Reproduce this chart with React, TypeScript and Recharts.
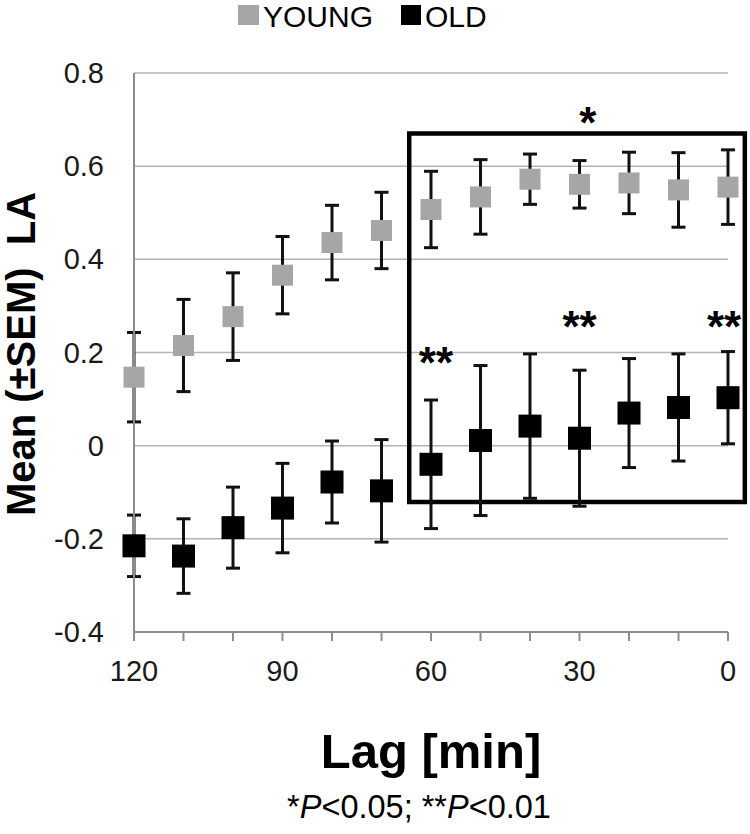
import React from "react";
import {
  ScatterChart,
  Scatter,
  XAxis,
  YAxis,
  CartesianGrid,
  ErrorBar,
  ReferenceArea,
  ReferenceDot,
} from "recharts";

// lag in minutes (x), every 10 min
const lags = [120, 110, 100, 90, 80, 70, 60, 50, 40, 30, 20, 10, 0];

// YOUNG group: mean and SEM
const youngMean = [0.147, 0.215, 0.277, 0.366, 0.436, 0.462, 0.507, 0.534, 0.572, 0.561, 0.564, 0.549, 0.555];
const youngSem = [0.096, 0.099, 0.094, 0.083, 0.08, 0.082, 0.082, 0.08, 0.054, 0.051, 0.066, 0.08, 0.08];

// OLD group: mean and SEM
const oldMean = [-0.215, -0.237, -0.176, -0.134, -0.078, -0.097, -0.04, 0.011, 0.042, 0.016, 0.07, 0.082, 0.103];
const oldSem = [0.066, 0.08, 0.087, 0.096, 0.088, 0.11, 0.138, 0.161, 0.155, 0.146, 0.117, 0.115, 0.099];

const xTicks = [120, 110, 100, 90, 80, 70, 60, 50, 40, 30, 20, 10, 0];
const xLabelTicks = [120, 90, 60, 30, 0];
const yTicks = [-0.4, -0.2, 0, 0.2, 0.4, 0.6, 0.8];

// significance marks (lag, value, text) and the framed window
const sigMarks = [
  { lag: 28.3, value: 0.714, text: "*" },
  { lag: 59, value: 0.2, text: "**" },
  { lag: 30, value: 0.277, text: "**" },
  { lag: 0.8, value: 0.277, text: "**" },
];
const windowBox = { lagFrom: 64.4, lagTo: -3.4, low: -0.121, high: 0.67 };

const FONT = "'Liberation Sans', Arial, sans-serif";
const YOUNG_COLOR = "#a6a6a6";
const OLD_COLOR = "#000000";
const GRID_COLOR = "#b3b3b3";
const AXIS_COLOR = "#8c8c8c";

const youngData = lags.map((lag, i) => ({ lag, mean: youngMean[i], sem: youngSem[i] }));
const oldData = lags.map((lag, i) => ({ lag, mean: oldMean[i], sem: oldSem[i] }));

const square = (size: number, color: string) => (props: any) => {
  const { cx, cy } = props;
  return <rect x={cx - size / 2} y={cy - size / 2} width={size} height={size} fill={color} />;
};

const XTick = ({ x, y, payload }: any) => {
  if (!xLabelTicks.includes(payload.value)) return null;
  return (
    <text x={x} y={y + 30} textAnchor="middle" dominantBaseline="central" fontSize={29} fontFamily={FONT} fill="#1a1a1a">
      {payload.value}
    </text>
  );
};

const YTick = ({ x, y, payload }: any) => {
  const v = payload.value;
  const label = v === 0 ? "0" : String(v);
  return (
    <text x={x} y={y} textAnchor="end" dominantBaseline="central" fontSize={29} fontFamily={FONT} fill="#1a1a1a">
      {label}
    </text>
  );
};

const XTitle = (props: any) => {
  const { viewBox } = props;
  const cx = viewBox.x + viewBox.width / 2;
  return (
    <g>
      <text x={cx} y={viewBox.y + 136} textAnchor="middle" fontSize={49} fontWeight="bold" fontFamily={FONT} fill="#000">
        Lag [min]
      </text>
      <text x={419} y={818} textAnchor="middle" fontSize={32.5} fontFamily={FONT} fill="#000">
        <tspan>*</tspan>
        <tspan fontStyle="italic">P</tspan>
        <tspan>{"<0.05; **"}</tspan>
        <tspan fontStyle="italic">P</tspan>
        <tspan>{"<0.01"}</tspan>
      </text>
    </g>
  );
};

const YTitle = (props: any) => {
  const { viewBox } = props;
  const cy = viewBox.y + viewBox.height / 2 + 1.5;
  return (
    <text
      x={21}
      y={cy}
      transform={`rotate(-90, 21, ${cy})`}
      textAnchor="middle"
      dominantBaseline="central"
      fontSize={40}
      fontWeight="bold"
      fontFamily={FONT}
      fill="#000"
      style={{ whiteSpace: "pre" }}
    >
      {"Mean (\u00b1SEM)  LA"}
    </text>
  );
};

const starShape = (text: string) => (props: any) => (
  <text x={props.cx} y={props.cy + 25} textAnchor="middle" fontSize={44} fontWeight="bold" fontFamily={FONT} fill="#000">
    {text}
  </text>
);

const Legend = () => (
  <div
    style={{
      position: "absolute",
      left: 238,
      top: 0,
      display: "flex",
      alignItems: "flex-start",
      fontFamily: FONT,
      fontSize: 30,
      lineHeight: "normal",
      color: "#000",
      whiteSpace: "nowrap",
    }}
  >
    <span style={{ width: 21, height: 20, marginTop: 5, background: YOUNG_COLOR, display: "inline-block", marginRight: 4 }} />
    <span>YOUNG</span>
    <span style={{ width: 20, height: 20, marginTop: 5, background: OLD_COLOR, display: "inline-block", marginLeft: 28, marginRight: 4 }} />
    <span>OLD</span>
  </div>
);

export default function App() {
  return (
    <div style={{ position: "absolute", left: 0, top: 0, width: 750, height: 834, background: "#fff" }}>
      <Legend />
      <ScatterChart width={750} height={834} margin={{ top: 73, right: 22, left: 0, bottom: 0 }}>
        <CartesianGrid horizontal vertical={false} stroke={GRID_COLOR} strokeWidth={1.5} />
        <XAxis
          type="number"
          dataKey="lag"
          domain={[0, 120]}
          reversed
          ticks={xTicks}
          interval={0}
          height={202}
          tickSize={9}
          tickMargin={0}
          tick={<XTick />}
          stroke={AXIS_COLOR}
          strokeWidth={2}
          label={<XTitle />}
        />
        <YAxis
          type="number"
          dataKey="mean"
          domain={[-0.4, 0.8]}
          ticks={yTicks}
          interval={0}
          width={134}
          tickLine={false}
          tickSize={0}
          tickMargin={30}
          tick={<YTick />}
          stroke={AXIS_COLOR}
          strokeWidth={2}
          label={<YTitle />}
        />
        <Scatter name="YOUNG" data={youngData} shape={square(21, YOUNG_COLOR)} isAnimationActive={false}>
          <ErrorBar dataKey="sem" direction="y" width={7} stroke="#111" strokeWidth={3} />
        </Scatter>
        <Scatter name="OLD" data={oldData} shape={square(23, OLD_COLOR)} isAnimationActive={false}>
          <ErrorBar dataKey="sem" direction="y" width={7} stroke="#111" strokeWidth={3} />
        </Scatter>
        <ReferenceArea
          x1={windowBox.lagFrom}
          x2={windowBox.lagTo}
          y1={windowBox.low}
          y2={windowBox.high}
          ifOverflow="visible"
          fill="none"
          fillOpacity={0}
          stroke="#000"
          strokeWidth={4.5}
        />
        {sigMarks.map((m, i) => (
          <ReferenceDot
            key={`sig-${i}`}
            x={m.lag}
            y={m.value}
            r={0}
            ifOverflow="visible"
            shape={starShape(m.text)}
          />
        ))}
      </ScatterChart>
    </div>
  );
}
